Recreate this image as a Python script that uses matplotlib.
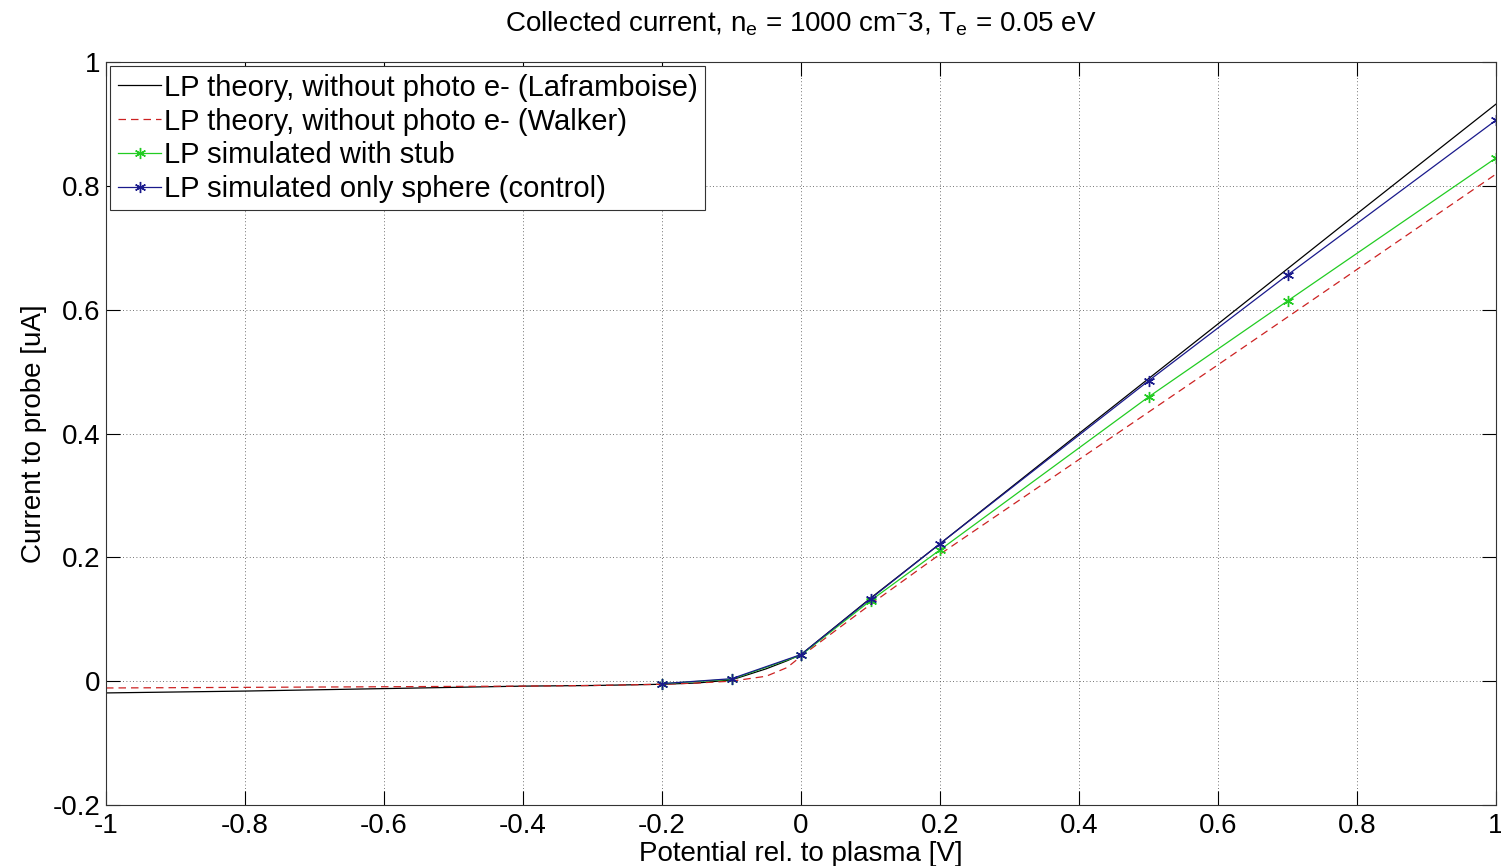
#!/usr/bin/env python3

import matplotlib
matplotlib.use('Agg')
import matplotlib.pyplot as plt
import numpy as np
from matplotlib.ticker import FuncFormatter

# Theory curves
v_theory = [-1.0, -0.8, -0.6, -0.4, -0.3, -0.2, -0.15, -0.1, -0.05, -0.02, 0.0,
            0.1, 0.2, 0.4, 0.6, 0.8, 1.0]
i_lafr = [-0.019, -0.016, -0.012, -0.008, -0.007, -0.005, -0.003, 0.002, 0.020,
          0.033, 0.043, 0.134, 0.222, 0.400, 0.577, 0.755, 0.932]
i_walker = [-0.011, -0.010, -0.009, -0.008, -0.007, -0.005, -0.003, 0.000, 0.008,
            0.022, 0.040, 0.124, 0.205, 0.358, 0.511, 0.665, 0.819]

# Simulated points
v_sim = [-0.2, -0.1, 0.0, 0.1, 0.2, 0.5, 0.7, 1.0]
i_stub = [-0.004, 0.003, 0.042, 0.130, 0.212, 0.459, 0.614, 0.845]
i_sphere = [-0.004, 0.004, 0.043, 0.133, 0.222, 0.485, 0.656, 0.906]

plt.rcParams['font.family'] = ['Liberation Sans', 'DejaVu Sans']
plt.rcParams['mathtext.fontset'] = 'custom'
plt.rcParams['mathtext.rm'] = 'Liberation Sans'
plt.rcParams['mathtext.it'] = 'Liberation Sans'

fig = plt.figure(figsize=(15.01, 8.66), dpi=100)
ax = fig.add_axes([106 / 1501, 1 - 805 / 866, 1390 / 1501, 743 / 866])

asterisk = (6, 2, 0)
ax.plot(v_theory, i_lafr, '-', color='k', lw=0.9,
        label='LP theory, without photo e- (Laframboise)')
ax.plot(v_theory, i_walker, '--', color='#cc2222', lw=0.9, dashes=(6, 4),
        label='LP theory, without photo e- (Walker)')
ax.plot(v_sim, i_stub, '-', color='#22cc22', lw=0.9, marker=asterisk, ms=8,
        label='LP simulated with stub')
ax.plot(v_sim, i_sphere, '-', color='#1a1a8c', lw=0.9, marker=asterisk, ms=8,
        label='LP simulated only sphere (control)')

ax.set_xlim(-1, 1)
ax.set_ylim(-0.2, 1)
ax.set_xticks(np.arange(-1, 1.01, 0.2))
ax.set_yticks(np.arange(-0.2, 1.01, 0.2))
fmt = FuncFormatter(lambda v, p: '%g' % round(v, 2) if abs(v) > 1e-9 else '0')
ax.xaxis.set_major_formatter(fmt)
ax.yaxis.set_major_formatter(fmt)
ax.tick_params(direction='in', top=True, right=True, length=10, width=0.8,
               labelsize=20)
ax.tick_params(axis='x', pad=6)
ax.tick_params(axis='y', pad=4)
ax.grid(True, linestyle=(0, (1, 3)), color='#444444', lw=0.6)
for s in ax.spines.values():
    s.set_linewidth(0.8)
    s.set_color('#333333')

ax.set_xlabel('Potential rel. to plasma [V]', fontsize=20, labelpad=1)
ax.set_ylabel('Current to probe [uA]', fontsize=20, labelpad=4)
ax.set_title(r'Collected current, n$_\mathregular{e}$ = 1000 cm$^{-}$3, T$_\mathregular{e}$ = 0.05 eV',
             fontsize=20, pad=22)

leg = ax.legend(loc='upper left', fontsize=21, fancybox=False, framealpha=1,
                edgecolor='#333333', borderaxespad=0.15, handlelength=1.5,
                handletextpad=0.1, labelspacing=0.2, borderpad=0.25)
leg.get_frame().set_linewidth(0.8)

fig.savefig('out.png', dpi=100)
